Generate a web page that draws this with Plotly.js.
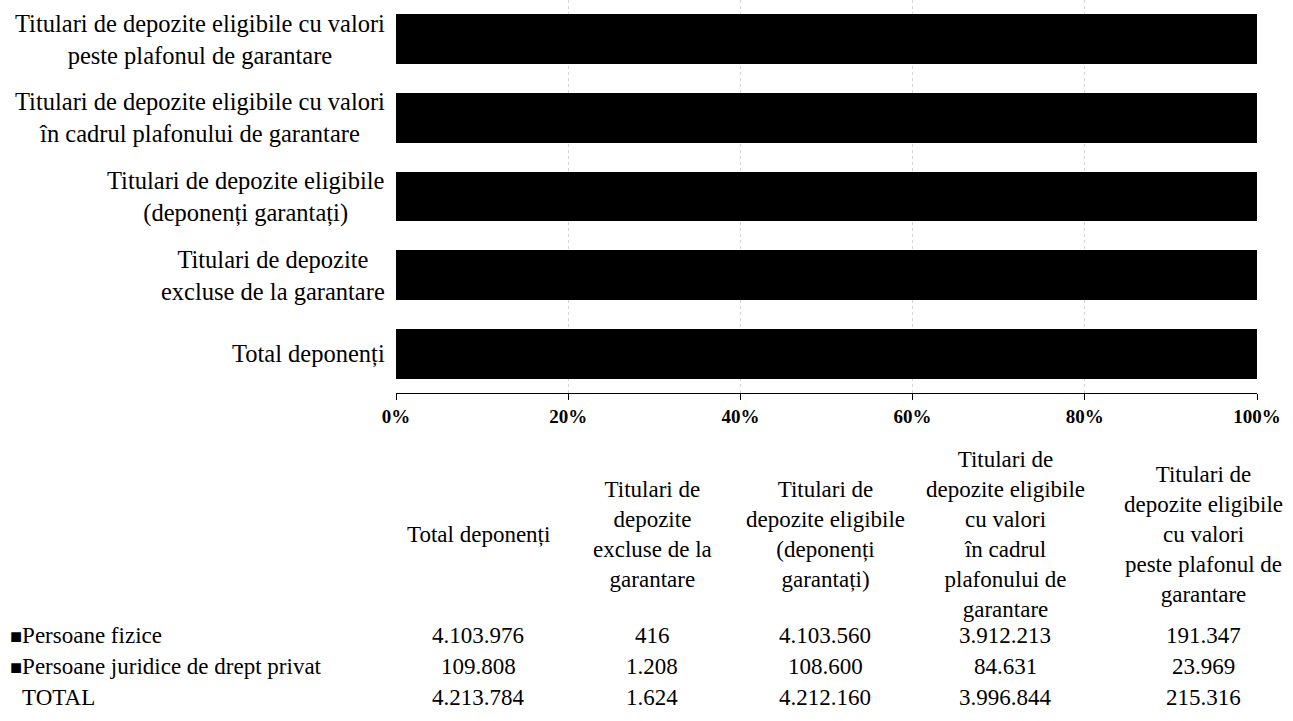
<!DOCTYPE html>
<html>
<head>
<meta charset="utf-8">
<script src="https://cdn.plot.ly/plotly-3.0.1.min.js"></script>
<style>
html,body{margin:0;padding:0;background:#fff;}
#chart{width:1293px;height:721px;}
</style>
</head>
<body>
<div id="chart"></div>
<script>
// ---- data ----
const categories = [
  'Total deponenți',
  'Titulari de depozite excluse de la garantare',
  'Titulari de depozite eligibile (deponenți garantați)',
  'Titulari de depozite eligibile cu valori în cadrul plafonului de garantare',
  'Titulari de depozite eligibile cu valori peste plafonul de garantare'
];
const barLabels = [
  'Total deponenți',
  'Titulari de depozite<br>excluse de la garantare',
  'Titulari de depozite eligibile<br>(deponenți garantați)',
  'Titulari de depozite eligibile cu valori<br>în cadrul plafonului de garantare',
  'Titulari de depozite eligibile cu valori<br>peste plafonul de garantare'
];
const tableHeaders = [
  'Total deponenți',
  'Titulari de<br>depozite<br>excluse de la<br>garantare',
  'Titulari de<br>depozite eligibile<br>(deponenți<br>garantați)',
  'Titulari de<br>depozite eligibile<br>cu valori<br>în cadrul<br>plafonului de<br>garantare',
  'Titulari de<br>depozite eligibile<br>cu valori<br>peste plafonul de<br>garantare'
];
const seriesNames = ['Persoane fizice', 'Persoane juridice de drept privat'];
const persoaneFizice = [4103976, 416, 4103560, 3912213, 191347];
const persoaneJuridice = [109808, 1208, 108600, 84631, 23969];
const totalRow = [4213784, 1624, 4212160, 3996844, 215316];
const xTickVals = [0, 20, 40, 60, 80, 100];
const xTickText = ['0%', '20%', '40%', '60%', '80%', '100%'];

// ---- layout helpers ----
const W = 1293, H = 721;
const M = {l: 396, r: 36, t: 0, b: 328};
const plotH = H - M.t - M.b;
const plotW = W - M.l - M.r;
const py = p => (H - M.b - p) / plotH;   // pixel y -> paper y
const px = p => (p - M.l) / plotW;       // pixel x -> paper x

const FONT = '"Liberation Serif", "Times New Roman", serif';
const fmt = v => v.toLocaleString('en-US').replace(/,/g, '.');

const traces = [
  {type: 'bar', orientation: 'h', name: seriesNames[0], y: categories, x: persoaneFizice,
   marker: {color: '#000000', line: {width: 0}}, hoverinfo: 'x+y'},
  {type: 'bar', orientation: 'h', name: seriesNames[1], y: categories, x: persoaneJuridice,
   marker: {color: '#000000', line: {width: 0}}, hoverinfo: 'x+y'}
];

const annotations = [];
// category labels
categories.forEach((c, i) => {
  annotations.push({xref: 'paper', yref: 'y', x: 0, y: c, xanchor: 'right', yanchor: 'middle',
    xshift: -9, text: barLabels[i], showarrow: false, align: 'center',
    font: {family: FONT, size: 24.5, color: '#000'}});
});
// table
const colX = [478, 652, 825, 1005, 1203];
const headerY = 534;
const rowY = [635, 666, 697];
tableHeaders.forEach((h, i) => {
  annotations.push({xref: 'paper', yref: 'paper', x: px(colX[i]), y: py(headerY), xanchor: 'center', yanchor: 'middle',
    text: h, showarrow: false, align: 'center', font: {family: FONT, size: 23, color: '#000'}});
});
const rows = [
  {label: '<span style="font-size:20px">■</span>' + seriesNames[0], vals: persoaneFizice},
  {label: '<span style="font-size:20px">■</span>' + seriesNames[1], vals: persoaneJuridice},
  {label: '<span style="font-size:20px;color:#fff">■</span>TOTAL', vals: totalRow}
];
rows.forEach((r, j) => {
  annotations.push({xref: 'paper', yref: 'paper', x: px(8), y: py(rowY[j]), xanchor: 'left', yanchor: 'middle',
    text: r.label, showarrow: false, align: 'left', font: {family: FONT, size: 23, color: '#000'}});
  r.vals.forEach((v, i) => {
    annotations.push({xref: 'paper', yref: 'paper', x: px(colX[i]), y: py(rowY[j]), xanchor: 'center', yanchor: 'middle',
      text: fmt(v), showarrow: false, font: {family: FONT, size: 23, color: '#000'}});
  });
});

const layout = {
  width: W, height: H,
  margin: M,
  barmode: 'stack',
  barnorm: 'percent',
  bargap: 0.365,
  showlegend: false,
  paper_bgcolor: '#fff',
  plot_bgcolor: '#fff',
  font: {family: FONT, size: 16, color: '#000'},
  xaxis: {
    range: [0, 100], tickvals: xTickVals, ticktext: xTickText,
    showgrid: true, gridcolor: '#d4d4d4', griddash: 'dot', gridwidth: 1,
    showline: true, linecolor: '#000', linewidth: 1,
    ticks: 'outside', ticklen: 6, tickcolor: '#000',
    tickfont: {family: FONT, size: 19, color: '#000', weight: 'bold'},
    zeroline: false, fixedrange: true
  },
  yaxis: {
    categoryorder: 'array', categoryarray: categories,
    showticklabels: false, showgrid: false, zeroline: false, showline: false, ticks: '',
    fixedrange: true
  },
  annotations: annotations
};

Plotly.newPlot('chart', traces, layout, {displayModeBar: false, staticPlot: true});
</script>
</body>
</html>
